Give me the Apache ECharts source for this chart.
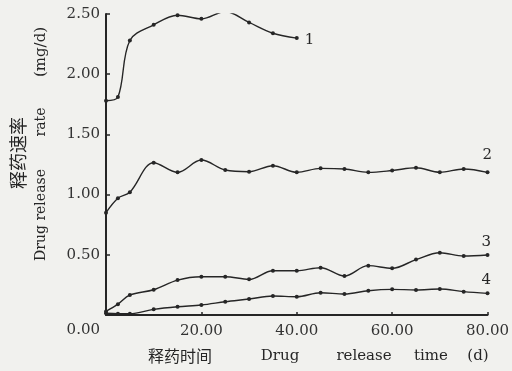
<!DOCTYPE html>
<html>
<head>
<meta charset="utf-8">
<script src="https://cdn.jsdelivr.net/npm/echarts@6/dist/echarts.min.js"></script>
<style>
html,body{margin:0;padding:0;background:#f1f1ee;}
#c{width:512px;height:371px;}
</style>
</head>
<body>
<div id="c"></div>
<script>
// Drug release time (d)
var t1 = [0, 2.5, 5, 10, 15, 20, 25, 30, 35, 40];
var v1 = [1.78, 1.81, 2.28, 2.41, 2.49, 2.46, 2.52, 2.43, 2.34, 2.30];
var tAll = [0, 2.5, 5, 10, 15, 20, 25, 30, 35, 40, 45, 50, 55, 60, 65, 70, 75, 80];
var v2 = [0.85, 0.97, 1.02, 1.265, 1.185, 1.287, 1.204, 1.19, 1.24, 1.185, 1.218, 1.213, 1.185, 1.20, 1.223, 1.185, 1.213, 1.185];
var v3 = [0.03, 0.09, 0.166, 0.21, 0.29, 0.318, 0.318, 0.296, 0.368, 0.368, 0.393, 0.324, 0.41, 0.388, 0.46, 0.517, 0.49, 0.498];
var v4 = [0.014, 0.011, 0.011, 0.047, 0.069, 0.083, 0.11, 0.133, 0.158, 0.152, 0.185, 0.174, 0.202, 0.213, 0.208, 0.216, 0.194, 0.18];
var seriesNames = ['1', '2', '3', '4'];
var xTitleCn = '释药时间';
var xTitleEn = ['Drug', 'release', 'time', '(d)'];
var yTitleCn = '释药速率';
var yTitleEn = ['Drug release', 'rate', '(mg/d)'];

function pairs(t, v) { return t.map(function (x, i) { return [x, v[i]]; }); }

var ink = '#262626';
var serif = '"DejaVu Serif", "Liberation Serif", serif';
var cjk = '"Noto Sans CJK SC", sans-serif';

function mkSeries(name, data, offset) {
  return {
    name: name, type: 'line', data: data, smooth: 0.35,
    symbol: 'circle', symbolSize: 4, color: ink,
    lineStyle: { color: ink, width: 1.4 },
    itemStyle: { color: ink },
    endLabel: { show: true, formatter: '{a}', color: ink, fontFamily: serif, fontSize: 15, offset: offset },
    emphasis: { disabled: true }, animation: false
  };
}

var chart = echarts.init(document.getElementById('c'));
chart.setOption({
  backgroundColor: '#f1f1ee',
  animation: false,
  grid: { left: 106, right: 20, top: 14, bottom: 56, containLabel: false },
  xAxis: {
    type: 'value', min: 0, max: 80, interval: 20,
    axisLine: { show: true, lineStyle: { color: ink, width: 2 } },
    axisTick: { show: true, inside: true, length: 3, lineStyle: { color: ink, width: 1.5 } },
    splitLine: { show: false },
    axisLabel: { margin: 9, color: '#333', fontFamily: serif, fontSize: 15,
      formatter: function (v) { return v === 0 ? '' : v.toFixed(2); } }
  },
  yAxis: {
    type: 'value', min: 0, max: 2.5, interval: 0.5,
    axisLine: { show: true, lineStyle: { color: ink, width: 2 } },
    axisTick: { show: true, inside: true, length: 4, lineStyle: { color: ink, width: 1.5 } },
    splitLine: { show: false },
    axisLabel: { margin: 6, color: '#333', fontFamily: serif, fontSize: 15,
      formatter: function (v) { return v === 0 ? '{z|0.00}' : v.toFixed(2); },
      rich: { z: { padding: [30, 0, 0, 0], fontFamily: serif, fontSize: 15, color: '#333' } } }
  },
  series: [
    mkSeries(seriesNames[0], pairs(t1, v1), [0, 2]),
    mkSeries(seriesNames[1], pairs(tAll, v2), [-13, -17]),
    mkSeries(seriesNames[2], pairs(tAll, v3), [-14, -13]),
    mkSeries(seriesNames[3], pairs(tAll, v4), [-14, -13])
  ],
  graphic: [
    { type: 'text', x: 180, y: 356, style: { text: xTitleCn, font: '16px ' + cjk, fill: ink, align: 'center', verticalAlign: 'middle' } },
    { type: 'text', x: 280, y: 356, style: { text: xTitleEn[0], font: '15px ' + serif, fill: ink, align: 'center', verticalAlign: 'middle' } },
    { type: 'text', x: 364, y: 356, style: { text: xTitleEn[1], font: '15px ' + serif, fill: ink, align: 'center', verticalAlign: 'middle' } },
    { type: 'text', x: 431, y: 356, style: { text: xTitleEn[2], font: '15px ' + serif, fill: ink, align: 'center', verticalAlign: 'middle' } },
    { type: 'text', x: 478, y: 356, style: { text: xTitleEn[3], font: '15px ' + serif, fill: ink, align: 'center', verticalAlign: 'middle' } },
    { type: 'text', x: 18, y: 153, rotation: Math.PI / 2, style: { text: yTitleCn, font: '18px ' + cjk, fill: ink, align: 'center', verticalAlign: 'middle' } },
    { type: 'text', x: 41, y: 215, rotation: Math.PI / 2, style: { text: yTitleEn[0], font: '14px ' + serif, fill: ink, align: 'center', verticalAlign: 'middle' } },
    { type: 'text', x: 41, y: 122, rotation: Math.PI / 2, style: { text: yTitleEn[1], font: '14px ' + serif, fill: ink, align: 'center', verticalAlign: 'middle' } },
    { type: 'text', x: 41, y: 52, rotation: Math.PI / 2, style: { text: yTitleEn[2], font: '15px ' + serif, fill: ink, align: 'center', verticalAlign: 'middle' } }
  ]
});
</script>
</body>
</html>
